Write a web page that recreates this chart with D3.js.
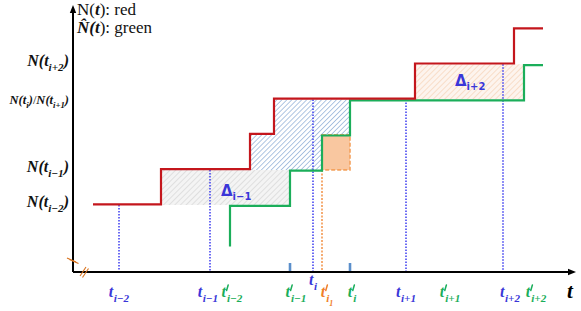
<!DOCTYPE html>
<html>
<head>
<meta charset="utf-8">
<script src="https://cdn.jsdelivr.net/npm/d3@7"></script>
<style>
  body { margin: 0; background: #fff; }
  text { font-family: "Liberation Serif", "DejaVu Serif", serif; }
</style>
</head>
<body>
<div id="container"></div>
<script>
// step levels: N(t) red and N-hat(t) green, [t, level]
const redSteps = [[20, 1], [88, 2], [177, 3], [201, 4], [342, 5], [441, 6], [470, 6]];
const greenSteps = [[157, -0.15], [157, 1], [217, 2], [249, 3], [277, 4], [451, 5], [470, 5]];

// shaded regions
const deltaPrev = [[88, 2], [88, 1], [217, 1], [217, 2]];
const blueArea = [[177, 2], [177, 3], [201, 3], [201, 4], [277, 4], [277, 3], [249, 3], [249, 2]];
const orangeBox = [[249, 3], [277, 3], [277, 2], [249, 2]];
const deltaNext = [[342, 5], [451, 5], [451, 4], [342, 4]];

// vertical dotted marks [t, level where it starts]
const blueMarks = [[46, 1], [137, 2], [240, 4], [333, 4], [430, 5]];
const orangeMarks = [[249, 2]];
const axisTicks = [217, 277];

// x labels: t, subscript, primed?, colour key, row
const xLabels = [
  { t: 46, sub: "i−2", prime: false, c: "blue", row: 1 },
  { t: 135, sub: "i−1", prime: false, c: "blue", row: 1 },
  { t: 159, sub: "i−2", prime: true, c: "green", row: 1 },
  { t: 223, sub: "i−1", prime: true, c: "green", row: 1 },
  { t: 240, sub: "i", prime: false, c: "blue", row: 0 },
  { t: 254, sub: "i", subsub: "1", prime: true, c: "orange", row: 1 },
  { t: 279, sub: "i", prime: true, c: "green", row: 1 },
  { t: 333, sub: "i+1", prime: false, c: "blue", row: 1 },
  { t: 377, sub: "i+1", prime: true, c: "green", row: 1 },
  { t: 437, sub: "i+2", prime: false, c: "blue", row: 1 },
  { t: 463, sub: "i+2", prime: true, c: "green", row: 1 }
];

// y labels: level, subscripts
const yLabels = [
  { n: 5, subs: ["i+2"] },
  { n: 4, subs: ["i", "i+1"] },
  { n: 2, subs: ["i−1"] },
  { n: 1, subs: ["i−2"] }
];

const colors = {
  red: "#C4161C", green: "#1BAE5A", blue: "#3A36D8", dot: "#3B3BF0",
  orange: "#F0802A", tick: "#5B8FCB"
};

const width = 581, height = 311;

const svg = d3.select("#container").append("svg")
  .attr("width", width).attr("height", height);

const x = d3.scaleLinear().domain([0, 500]).range([73, 573]);
const y = d3.scaleLinear().domain([-0.9, 6.6]).range([272, 8]);

// patterns
const defs = svg.append("defs");
const hatch = (id, bg, line, size, w) => {
  const p = defs.append("pattern").attr("id", id)
    .attr("patternUnits", "userSpaceOnUse")
    .attr("width", size).attr("height", size)
    .attr("patternTransform", "rotate(45)");
  p.append("rect").attr("width", size).attr("height", size).attr("fill", bg);
  p.append("line").attr("x1", 0).attr("y1", 0).attr("x2", 0).attr("y2", size)
    .attr("stroke", line).attr("stroke-width", w);
};
hatch("gray", "#f4f4f4", "#d6d6d6", 4, 1.4);
hatch("blue", "#ffffff", "#8eaed6", 3.5, 1.4);
hatch("peach", "#fdf4ee", "#f6d3b8", 4, 1.4);

defs.append("marker").attr("id", "arrow")
  .attr("viewBox", "0 0 10 10").attr("refX", 5).attr("refY", 5)
  .attr("markerWidth", 4).attr("markerHeight", 4).attr("orient", "auto")
  .append("path").attr("d", "M0,1 L10,5 L0,9 z").attr("fill", "#000");

const poly = d3.line().x((d) => x(d[0])).y((d) => y(d[1]));

// shaded areas
svg.append("path").attr("d", poly(deltaPrev) + "Z").attr("fill", "url(#gray)");
svg.append("path").attr("d", poly(blueArea) + "Z").attr("fill", "url(#blue)");
svg.append("path").attr("d", poly(deltaNext) + "Z").attr("fill", "url(#peach)");
svg.append("path").attr("d", poly(orangeBox) + "Z")
  .attr("fill", "#F9C7A0")
  .attr("stroke", "#F4A25E").attr("stroke-width", 1.6)
  .attr("stroke-dasharray", "4,2");

// dotted verticals
svg.selectAll("line.bdot").data(blueMarks).enter().append("line")
  .attr("x1", (d) => x(d[0])).attr("x2", (d) => x(d[0]))
  .attr("y1", (d) => y(d[1])).attr("y2", y(-0.9))
  .attr("stroke", colors.dot).attr("stroke-width", 1.5)
  .attr("stroke-dasharray", "1.5,1.5");
svg.selectAll("line.odot").data(orangeMarks).enter().append("line")
  .attr("x1", (d) => x(d[0])).attr("x2", (d) => x(d[0]))
  .attr("y1", (d) => y(d[1])).attr("y2", y(-0.9))
  .attr("stroke", colors.orange).attr("stroke-width", 1.3)
  .attr("stroke-dasharray", "2,1.5");

// step lines
const step = d3.line().x((d) => x(d[0])).y((d) => y(d[1])).curve(d3.curveStepAfter);
svg.append("path").attr("d", step(greenSteps))
  .attr("fill", "none").attr("stroke", colors.green).attr("stroke-width", 2.2)
  .attr("transform", "translate(0,0.8)");
svg.append("path").attr("d", step(redSteps))
  .attr("fill", "none").attr("stroke", colors.red).attr("stroke-width", 2.2)
  .attr("transform", "translate(0,-0.8)");

// axes
svg.append("line").attr("x1", x(0)).attr("y1", y(-0.9)).attr("x2", x(0)).attr("y2", 9)
  .attr("stroke", "#000").attr("stroke-width", 2).attr("marker-end", "url(#arrow)");
svg.append("line").attr("x1", x(0)).attr("y1", y(-0.9)).attr("x2", 572).attr("y2", y(-0.9))
  .attr("stroke", "#000").attr("stroke-width", 2).attr("marker-end", "url(#arrow)");

// small ticks on x axis
svg.selectAll("line.tk").data(axisTicks).enter().append("line")
  .attr("x1", (d) => x(d)).attr("x2", (d) => x(d))
  .attr("y1", y(-0.9) - 9).attr("y2", y(-0.9) - 1)
  .attr("stroke", colors.tick).attr("stroke-width", 2.6);

// axis break marks
const brk = svg.append("g").attr("stroke", "#D8731F").attr("stroke-width", 1.1);
[[0, 0], [2.5, 1.5]].forEach(([dx, dy]) => {
  brk.append("line").attr("x1", 67 + dx).attr("y1", 258 + dy).attr("x2", 76 + dx).attr("y2", 262 + dy);
  brk.append("line").attr("x1", 80 + dx).attr("y1", 277 + dy - 1).attr("x2", 86 + dx).attr("y2", 268 + dy - 1);
});

// rich text helper
const rich = (parent, px, py, parts, size, color, anchor) => {
  const t = parent.append("text").attr("x", px).attr("y", py)
    .attr("font-size", size).attr("fill", color).attr("text-anchor", anchor || "start");
  let shift = 0;
  parts.forEach((p) => {
    const lvl = p.k === "sub" ? size * 0.32 : p.k === "subsub" ? size * 0.55 : 0;
    const ts = t.append("tspan").text(p.s).attr("dy", lvl - shift);
    shift = lvl;
    if (p.k) ts.attr("font-size", p.k === "subsub" ? size * 0.5 : size * 0.7);
    if (p.dx) ts.attr("dx", p.dx);
    ts.attr("font-weight", p.w || "bold").attr("font-style", p.st || "italic");
  });
  return t;
};

// x labels (prime drawn as a small stroke above the subscript)
xLabels.forEach((d) => {
  const parts = [{ s: "t" }, { s: d.sub, k: "sub", dx: d.prime ? 1 : 0.5 }];
  if (d.subsub) parts.push({ s: d.subsub, k: "subsub" });
  const py = d.row ? 297 : 285;
  const txt = rich(svg, x(d.t), py, parts, 16, colors[d.c], "middle");
  if (d.prime) {
    const end = txt.node().getEndPositionOfChar(0).x;
    svg.append("path")
      .attr("d", `M${end + 2.2},${py - 12} L${end + 0.6},${py - 6.5}`)
      .attr("stroke", colors[d.c]).attr("stroke-width", 1.5)
      .attr("stroke-linecap", "round");
  }
});
rich(svg, 570, 298, [{ s: "t" }], 21, "#000", "middle");

// y labels
yLabels.forEach((d) => {
  let parts = [];
  d.subs.forEach((s, i) => {
    if (i > 0) parts.push({ s: "/", st: "normal", w: "normal" });
    parts.push({ s: "N(t" }, { s: s, k: "sub" }, { s: ")" });
  });
  const small = d.subs.length > 1;
  rich(svg, 69, y(d.n) + (small ? 4 : 2), parts, small ? 12.5 : 16, "#111", "end");
});

// legend
rich(svg, 77, 15, [{ s: "N(", w: "normal", st: "normal" }, { s: "t" },
  { s: "): red", w: "normal", st: "normal" }], 17, "#111");
rich(svg, 77, 33, [{ s: "N\u0302(t" }, { s: "): green", w: "normal", st: "normal" }], 17, "#111");

// delta labels
const deltaLab = (px, py, sub) => {
  const t = svg.append("text").attr("x", px).attr("y", py)
    .attr("fill", colors.blue).attr("font-weight", "bold")
    .style("font-family", "'DejaVu Sans', sans-serif");
  t.append("tspan").text("Δ").attr("font-size", 15);
  t.append("tspan").text(sub).attr("font-size", 10).attr("dy", 4);
};
deltaLab(x(148), y(1.25), "i−1");
deltaLab(x(382), y(4.37), "i+2");
</script>
</body>
</html>
